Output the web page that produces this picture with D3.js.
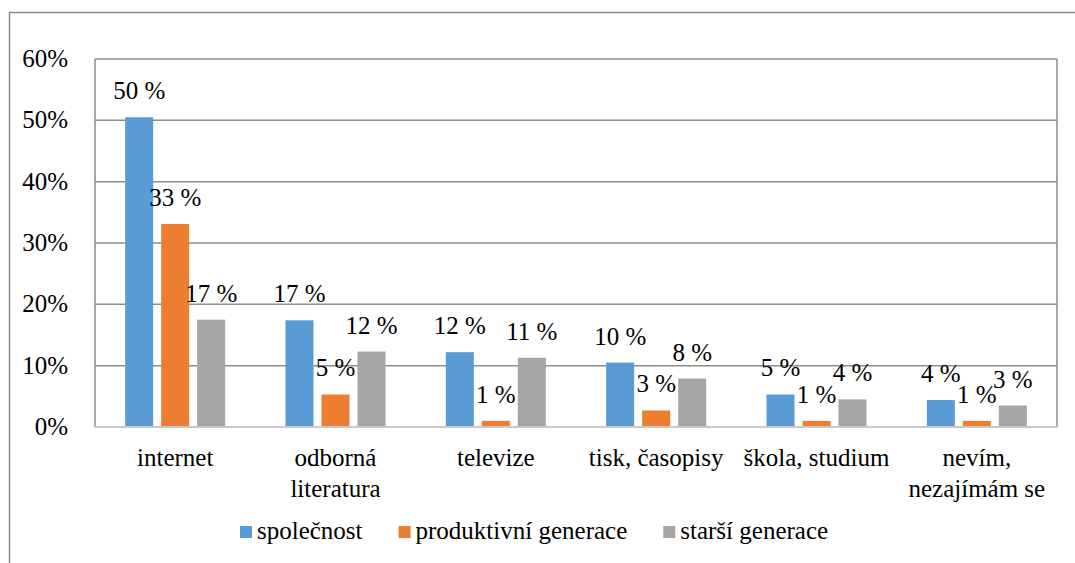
<!DOCTYPE html>
<html><head><meta charset="utf-8">
<script src="https://cdn.jsdelivr.net/npm/d3@7"></script>
</head><body style="margin:0"><svg id="c" width="1075" height="563" style="display:block"></svg>
<script>
const categories = [["internet"],["odborná","literatura"],["televize"],["tisk, časopisy"],["škola, studium"],["nevím,","nezajímám se"]];
const series = ["společnost","produktivní generace","starší generace"];
const colors = ["#5B9BD5","#ED7D31","#A5A5A5"];
const spolecnost = [50.5, 17.4, 12.2, 10.5, 5.3, 4.4];
const produktivni = [33.1, 5.3, 1.0, 2.7, 1.0, 1.0];
const starsi = [17.5, 12.3, 11.3, 7.9, 4.5, 3.5];
const labels = [["50 %","17 %","12 %","10 %","5 %","4 %"],["33 %","5 %","1 %","3 %","1 %","1 %"],["17 %","12 %","11 %","8 %","4 %","3 %"]];
const yTicks = [0,10,20,30,40,50,60];
const values = [spolecnost, produktivni, starsi];

const FS = 25;
const svg = d3.select("#c");
const L=95, R=1057, T=59, B=427;
svg.append("path").attr("d","M9.5,563V12.5H1075").attr("fill","none").attr("stroke","#8c8c8c").attr("stroke-width",1.5);

const x0 = d3.scaleBand().domain(d3.range(categories.length)).range([L,R]);
const y = d3.scaleLinear().domain([0,60]).range([B,T]);
const bw = 28, gap = 8;

svg.append("g").selectAll("line").data(yTicks.filter(d=>d>0)).join("line")
  .attr("x1",L).attr("x2",R).attr("y1",d=>y(d)).attr("y2",d=>y(d))
  .attr("stroke","#8c8c8c").attr("stroke-width",1.5);
svg.append("line").attr("x1",L).attr("x2",L).attr("y1",T).attr("y2",B).attr("stroke","#8c8c8c").attr("stroke-width",1.5);
svg.append("line").attr("x1",R).attr("x2",R).attr("y1",T).attr("y2",B).attr("stroke","#8c8c8c").attr("stroke-width",1.5);

function txt(sel){ return sel.style("font-family",'"Times New Roman", Tinos, "Liberation Serif", Times, serif').style("font-size",FS+"px"); }

svg.append("g").selectAll("text").data(yTicks).join("text")
  .attr("x",68).attr("y",d=>y(d)+8).attr("text-anchor","end")
  .call(txt).text(d=>d+"%");

values.forEach((vals,si)=>{
  const off = (si-1)*(bw+gap);
  svg.append("g").selectAll("rect").data(vals).join("rect")
    .attr("x",(d,i)=>x0(i)+x0.bandwidth()/2+off-bw/2)
    .attr("y",d=>y(d)).attr("width",bw).attr("height",d=>B-y(d))
    .attr("fill",colors[si]);
  svg.append("g").selectAll("text").data(vals).join("text")
    .attr("x",(d,i)=>x0(i)+x0.bandwidth()/2+off)
    .attr("y",d=>y(d)-18).attr("text-anchor","middle")
    .call(txt)
    .text((d,i)=>labels[si][i]);
});
svg.append("line").attr("x1",L).attr("x2",R).attr("y1",B).attr("y2",B).attr("stroke","#c8c8c8").attr("stroke-width",2);

categories.forEach((lines,i)=>{
  const t = svg.append("text").attr("text-anchor","middle").call(txt);
  lines.forEach((ln,j)=>t.append("tspan").attr("x",x0(i)+x0.bandwidth()/2).attr("y",466+j*31).text(ln));
});

// legend laid out sequentially from measured text widths
let lx = 240;
series.forEach((s,i)=>{
  svg.append("rect").attr("x",lx).attr("y",526).attr("width",12).attr("height",12).attr("fill",colors[i]);
  const t = svg.append("text").attr("x",lx+17).attr("y",539).call(txt).text(s);
  lx += 17 + t.node().getComputedTextLength() + 36;
});
</script></body></html>
